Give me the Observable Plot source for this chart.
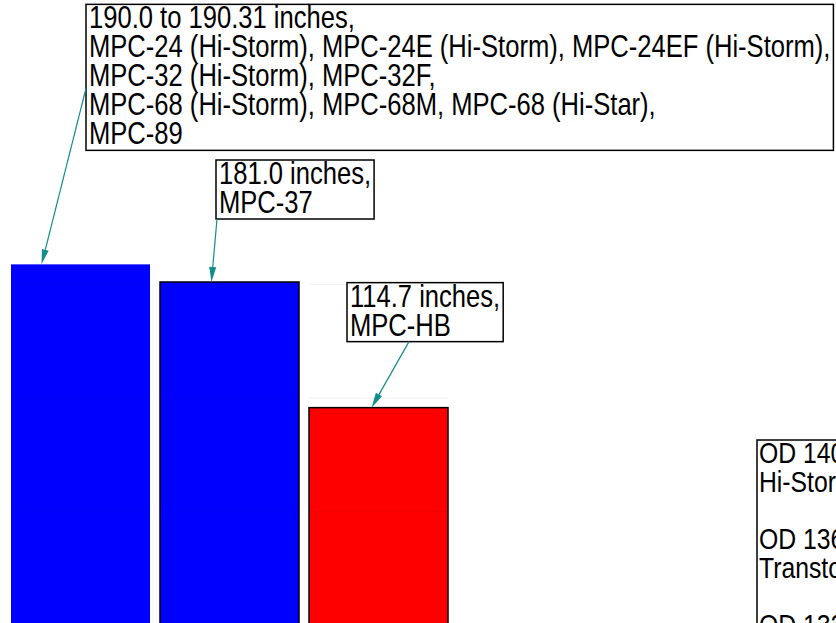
<!DOCTYPE html>
<html>
<head>
<meta charset="utf-8">
<script src="https://cdn.jsdelivr.net/npm/d3@7"></script>
<script src="https://cdn.jsdelivr.net/npm/@observablehq/plot@0.6"></script>
<style>
  html, body { margin: 0; padding: 0; background: #fff; overflow: hidden; }
  #chart svg { display: block; }
</style>
</head>
<body>
<div id="chart"></div>
<script>
// ---- data ----
const casks   = ["MPC-24/32/68/89", "MPC-37", "MPC-HB"];
const lengths = [190.31, 181.0, 114.7];
const groups  = ["MPC", "MPC", "MPC-HB"];
const labels  = [
  ["190.0 to 190.31 inches,",
   "MPC-24 (Hi-Storm), MPC-24E (Hi-Storm), MPC-24EF (Hi-Storm),",
   "MPC-32 (Hi-Storm), MPC-32F,",
   "MPC-68 (Hi-Storm), MPC-68M, MPC-68 (Hi-Star),",
   "MPC-89"],
  ["181.0 inches,", "MPC-37"],
  ["114.7 inches,", "MPC-HB"]
];
const legendLines = ["OD 140 inches,", "Hi-Storm overpack", "", "OD 136 inches,", "Transtor overpack", "", "OD 132 inches,"];
const yTicks = [60, 120, 180];

const rows = casks.map((c, i) => ({cask: c, length: lengths[i], group: groups[i]}));
const tickRows = casks.flatMap(c => yTicks.map(t => ({cask: c, t})));

// ---- layout (pixels) ----
const FONT = "'Liberation Sans', Arial, Helvetica, sans-serif";
const SQUEEZE = 0.825;
const annLayout = [
  {dx: 75, dy: -260, tip: 0.22, sx: 0,  sy: 84},
  {dx: 56, dy: -122, tip: 0.37, sx: 1,  sy: "bottom"},
  {dx: 38, dy: -125, tip: 0.45, sx: 62, sy: "bottom"}
];
const TEAL = "#138c8c";

const plot = Plot.plot({
  width: 836,
  height: 625,
  marginTop: 246, marginBottom: 0, marginLeft: 10, marginRight: 390,
  x: {domain: casks, range: [10, 448], paddingInner: 0.07, paddingOuter: 0, axis: null},
  y: {domain: [0, 200], range: [625, 246], axis: null},
  color: {domain: ["MPC", "MPC-HB"], range: ["#0000ff", "#ff0000"]},
  marks: [
    Plot.barY(rows, {
      x: "cask", y: "length", fill: "group",
      stroke: (d, i) => i === 0 ? "none" : "#000", strokeWidth: 1.5
    }),
    Plot.tickY(tickRows, {x: "cask", y: "t", stroke: "#000", strokeOpacity: 0.06})
  ]
});

document.getElementById("chart").appendChild(plot);

// ---- annotations drawn with the plot's own scales ----
const svg = d3.select(plot);
const xs = plot.scale("x");
const ys = plot.scale("y");
const bw = xs.bandwidth;
const LINE = 29;

function squeezedText(parent, x, y, lines, size, lineH, firstOff) {
  const g = parent.append("g")
    .attr("transform", `translate(${x},${y}) scale(${SQUEEZE},1)`);
  const t = g.append("text")
    .attr("font-family", FONT).attr("font-size", size).attr("fill", "#000")
    .attr("text-anchor", "start");
  lines.forEach((line, j) => {
    t.append("tspan").attr("x", 0).attr("y", firstOff + j * lineH).text(line);
  });
  return t.node().getBBox().width * SQUEEZE;
}

rows.forEach((d, i) => {
  const L = annLayout[i];
  const bx = xs.apply(d.cask);
  const top = ys.apply(d.length);
  const boxX = bx + L.dx;
  const boxY = top + L.dy;
  const g = svg.append("g");
  const rect = g.append("rect");
  const w = squeezedText(g, boxX + 3, boxY, labels[i], 31, LINE, 24);
  const boxH = labels[i].length * LINE + 1;
  const boxW = w + 6;
  rect.attr("x", boxX).attr("y", boxY).attr("width", boxW).attr("height", boxH)
    .attr("fill", "#fff").attr("stroke", "#000").attr("stroke-width", 1.5);

  // arrow from the box to the top of the bar
  const x1 = boxX + L.sx;
  const y1 = L.sy === "bottom" ? boxY + boxH : boxY + L.sy;
  const x2 = bx + L.tip * bw;
  const y2 = top;
  const ang = Math.atan2(y2 - y1, x2 - x1);
  const hl = 15, hw = 3.5;
  const bxh = x2 - hl * Math.cos(ang), byh = y2 - hl * Math.sin(ang);
  svg.append("line")
    .attr("x1", x1).attr("y1", y1).attr("x2", bxh).attr("y2", byh)
    .attr("stroke", TEAL).attr("stroke-width", 1.2);
  const px = -Math.sin(ang) * hw, py = Math.cos(ang) * hw;
  svg.append("polygon")
    .attr("points", `${x2},${y2} ${bxh + px},${byh + py} ${bxh - px},${byh - py}`)
    .attr("fill", TEAL);
});

// ---- legend box at the right (extends beyond the frame) ----
const lg = svg.append("g");
const LX = 757, LY = 440;
lg.append("rect").attr("x", LX).attr("y", LY).attr("width", 400).attr("height", 400)
  .attr("fill", "#fff").attr("stroke", "#000").attr("stroke-width", 1.5);
squeezedText(lg, LX + 2, LY, legendLines, 30, 28.7, 23);
</script>
</body>
</html>
